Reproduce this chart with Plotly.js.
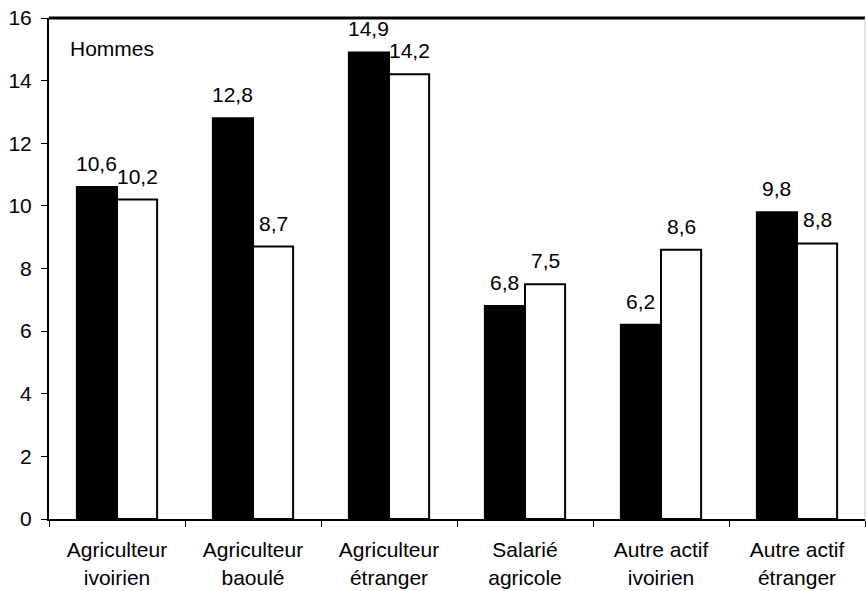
<!DOCTYPE html>
<html>
<head>
<meta charset="utf-8">
<script src="https://cdn.plot.ly/plotly-3.0.1.min.js"></script>
<style>html,body{margin:0;padding:0;background:#fff;}#chart{width:866px;height:591px;}</style>
</head>
<body>
<div id="chart"></div>
<script>
const categories = ["Agriculteur<br>ivoirien", "Agriculteur<br>baoulé", "Agriculteur<br>étranger", "Salarié<br>agricole", "Autre actif<br>ivoirien", "Autre actif<br>étranger"];
const seriesBlack = [10.6, 12.8, 14.9, 6.8, 6.2, 9.8];
const seriesWhite = [10.2, 8.7, 14.2, 7.5, 8.6, 8.8];
const yTickVals = [0, 2, 4, 6, 8, 10, 12, 14, 16];
const panelLabel = "Hommes";

const fmt = v => v.toFixed(1).replace('.', ',');
const FONT = "Liberation Sans, Arial, sans-serif";
const FS = 21;
const BARGAP = 0.41;
const half = (1 - BARGAP) / 4; // half bar width in category units

const traces = [
  {type: 'bar', x: categories, y: seriesBlack, marker: {color: '#000', line: {color: '#000', width: 2}}, hoverinfo: 'none'},
  {type: 'bar', x: categories, y: seriesWhite, marker: {color: '#fff', line: {color: '#000', width: 2}}, hoverinfo: 'none'}
];

const labelAnn = (vals, off) => vals.map((v, i) => ({
  text: fmt(v), xref: 'x', yref: 'y', x: i + off, y: v, xanchor: 'center', yanchor: 'bottom',
  yshift: 10, showarrow: false, font: {family: FONT, size: FS, color: '#000'}
}));

const layout = {
  width: 866, height: 591,
  margin: {l: 49, r: 1, t: 18, b: 72},
  paper_bgcolor: '#fff', plot_bgcolor: '#fff',
  showlegend: false,
  barmode: 'group', bargap: BARGAP, bargroupgap: 0,
  font: {family: FONT, size: FS, color: '#000'},
  xaxis: {type: 'category', range: [-0.5, categories.length - 0.5], showline: true, linecolor: '#000', linewidth: 2, showgrid: false,
          ticks: 'outside', tickson: 'boundaries', ticklen: 6, tickcolor: '#000', tickwidth: 1,
          ticklabelstandoff: 11, tickfont: {family: FONT, size: FS, color: '#000'}},
  yaxis: {range: [0, 16], tickvals: yTickVals, showline: true, linecolor: '#000', linewidth: 2,
          showgrid: false, zeroline: false, ticks: 'outside', ticklen: 6, tickcolor: '#000', tickwidth: 1,
          ticklabelstandoff: 5, tickfont: {family: FONT, size: FS, color: '#000'}},
  shapes: [
    {type: 'line', xref: 'paper', yref: 'paper', x0: 0, x1: 1, y0: 1, y1: 1, line: {color: '#000', width: 3}},
    {type: 'line', xref: 'paper', yref: 'paper', x0: 1, x1: 1, y0: 0, y1: 1, line: {color: '#c8c8c8', width: 1}}
  ],
  annotations: [
    {text: panelLabel, xref: 'paper', yref: 'paper', x: 0.023, y: 0.94, xanchor: 'left', yanchor: 'middle',
     showarrow: false, font: {family: FONT, size: FS, color: '#000'}}
  ].concat(labelAnn(seriesBlack, -half), labelAnn(seriesWhite, half))
};

Plotly.newPlot('chart', traces, layout, {displayModeBar: false, staticPlot: true});
</script>
</body>
</html>
